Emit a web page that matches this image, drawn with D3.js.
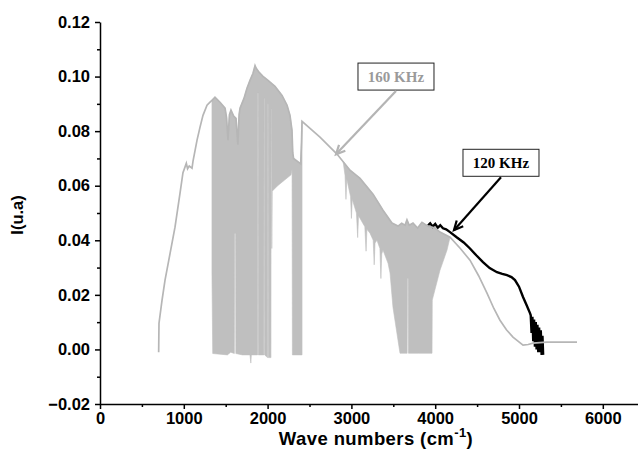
<!DOCTYPE html>
<html>
<head>
<meta charset="utf-8">
<script src="https://cdn.jsdelivr.net/npm/d3@7"></script>
<style>
  body { margin: 0; background: #fff; }
  svg { display: block; }
  .axis text { font-family: "Liberation Sans", Arial, sans-serif; font-weight: bold; font-size: 16.5px; fill: #000; }
  .axis path, .axis line { stroke: #000; stroke-width: 1.5; }
</style>
</head>
<body>
<div id="chart"></div>
<script>
// 160 KHz spectrum, upper envelope [wave number, intensity]
const env160 = [
  [700, -0.001], [704, 0.0096], [740, 0.018], [776, 0.0254], [835, 0.035], [895, 0.0448],
  [955, 0.0573], [990, 0.0648], [1014, 0.0668], [1030, 0.0682], [1045, 0.0662], [1065, 0.0672],
  [1098, 0.0664], [1110, 0.069], [1158, 0.0767], [1193, 0.0814], [1229, 0.0858], [1277, 0.0895],
  [1313, 0.0906], [1336, 0.0913], [1372, 0.0924], [1432, 0.0906], [1492, 0.0884], [1510, 0.085],
  [1527, 0.0767], [1545, 0.086], [1563, 0.0877], [1595, 0.0855], [1623, 0.0847], [1645, 0.075],
  [1660, 0.086], [1671, 0.0884], [1718, 0.092], [1754, 0.0957], [1790, 0.0986], [1826, 0.1012],
  [1850, 0.104], [1862, 0.1031], [1897, 0.1016], [1945, 0.1001], [2005, 0.0986], [2088, 0.0964],
  [2172, 0.0931], [2232, 0.0895], [2267, 0.0858], [2291, 0.0803], [2300, 0.072], [2310, 0.07],
  [2395, 0.068], [2405, 0.076], [2411, 0.0836], [2625, 0.0778], [2828, 0.0716], [2983, 0.0657],
  [3103, 0.0627], [3258, 0.0569], [3377, 0.051], [3484, 0.0463], [3556, 0.0452], [3600, 0.0462],
  [3640, 0.0455], [3663, 0.0475], [3690, 0.0455], [3735, 0.0463], [3790, 0.0445], [3842, 0.0466],
  [3914, 0.0452], [4000, 0.0445], [4057, 0.043], [4177, 0.0411], [4300, 0.037], [4415, 0.0327],
  [4518, 0.027], [4618, 0.0206], [4700, 0.015], [4773, 0.0107], [4850, 0.0072], [4928, 0.0045],
  [5048, 0.0016], [5110, 0.0018], [5167, 0.0023], [5334, 0.0027], [5692, 0.0027]
];

// 160 KHz absorption bands, lower edge of the grey fill
const band160a = [
  [1336, 0.028], [1345, -0.0015], [1520, -0.002], [1560, -0.001], [1603, -0.0015], [1606, 0.0425],
  [1618, 0.0425], [1621, -0.0015], [1700, -0.002], [1790, -0.002], [1800, -0.005], [1806, -0.002],
  [1880, -0.002], [1882, 0.094], [1888, 0.094], [1890, -0.002], [1955, -0.002], [1957, 0.092],
  [1962, 0.092], [1964, -0.002], [2000, -0.003], [2002, 0.09], [2007, 0.09], [2009, -0.003],
  [2040, -0.003], [2042, 0.088], [2046, 0.088], [2050, 0.037], [2055, 0.058], [2120, 0.06],
  [2200, 0.062], [2280, 0.064], [2292, 0.066], [2296, -0.002], [2395, -0.002], [2411, -0.002]
];
const band160b = [
  [2900, 0.069], [2924, 0.0638], [2935, 0.055], [2945, 0.0625], [2990, 0.056], [3000, 0.048],
  [3010, 0.055], [3060, 0.05], [3075, 0.041], [3085, 0.049], [3160, 0.045], [3175, 0.036],
  [3185, 0.044], [3222, 0.0426], [3260, 0.04], [3272, 0.031], [3282, 0.039], [3305, 0.04],
  [3340, 0.037], [3352, 0.026], [3362, 0.035], [3377, 0.0364], [3437, 0.0316], [3461, 0.028],
  [3496, 0.0155], [3556, 0.0034], [3580, -0.0014], [3665, -0.0014], [3668, 0.026], [3678, 0.026],
  [3681, -0.0014], [3800, -0.0014], [3962, -0.0014], [3965, 0.0181], [4057, 0.029], [4141, 0.0364],
  [4177, 0.0411]
];

// 120 KHz spectrum (visible part)
const s120 = [
  [3914, 0.0455], [3940, 0.0462], [3970, 0.045], [4000, 0.046], [4030, 0.0446], [4060, 0.0455],
  [4093, 0.0444], [4130, 0.044], [4177, 0.043], [4260, 0.041], [4340, 0.0392], [4415, 0.037],
  [4490, 0.0345], [4570, 0.032], [4650, 0.0298], [4737, 0.0283], [4800, 0.0277], [4857, 0.0272],
  [4910, 0.0265], [4952, 0.0254], [5000, 0.023], [5048, 0.0192], [5090, 0.0163], [5131, 0.0133],
  [5140, 0.0125], [5150, 0.006], [5160, 0.012], [5170, 0.003], [5180, 0.011], [5190, 0.001],
  [5200, 0.01], [5210, 0.0], [5220, 0.009], [5230, -0.001], [5240, 0.008], [5250, -0.001],
  [5260, 0.007], [5270, -0.002], [5280, 0.005], [5288, -0.002]
];

const xMajor = [0, 1000, 2000, 3000, 4000, 5000, 6000];
const xMinor = [500, 1500, 2500, 3500, 4500, 5500];
const yMajor = [-0.02, 0.0, 0.02, 0.04, 0.06, 0.08, 0.10, 0.12];
const yMinor = [-0.01, 0.01, 0.03, 0.05, 0.07, 0.09, 0.11];

// labels: box centre and arrow tip, in data units
const notes = [
  { text: "160 KHz", color: "#9a9a9a", arrow: "#b4b4b4", box: [3532, 0.1], tip: [2816, 0.0715] },
  { text: "120 KHz", color: "#000", arrow: "#000", box: [4785, 0.0684], tip: [4224, 0.0437] }
];

const W = 638, H = 466;
const svg = d3.select("#chart").append("svg").attr("width", W).attr("height", H);

const x = d3.scaleLinear().domain([0, 6420]).range([100, 638]);
const y = d3.scaleLinear().domain([-0.02, 0.12]).range([404, 22]);

const line = d3.line().x((d) => x(d[0])).y((d) => y(d[1]));

// grey band fills: envelope part + lower edge reversed
function bandPoly(lower) {
  const x0 = lower[0][0], x1 = lower[lower.length - 1][0];
  const upper = env160.filter((d) => d[0] >= x0 && d[0] <= x1);
  return upper.concat(lower.slice().reverse());
}

[band160a, band160b].forEach((b) => {
  svg.append("path")
    .attr("d", line(bandPoly(b)) + "Z")
    .attr("fill", "#bfbfbf")
    .attr("stroke", "#bfbfbf")
    .attr("stroke-width", 0.6);
});

svg.append("path")
  .attr("d", line(s120))
  .attr("fill", "none")
  .attr("stroke", "#000")
  .attr("stroke-width", 2.4);

svg.append("path")
  .attr("d", line(env160))
  .attr("fill", "none")
  .attr("stroke", "#b6b6b6")
  .attr("stroke-width", 1.7);

// axes
svg.append("g").attr("class", "axis").attr("transform", "translate(0,404)")
  .call(d3.axisBottom(x).tickValues(xMajor).tickSize(5).tickSizeOuter(0).tickPadding(3).tickFormat(d3.format("d")));
svg.append("g").attr("class", "axis").attr("transform", "translate(0,404)")
  .call(d3.axisBottom(x).tickValues(xMinor).tickSize(3).tickFormat(""))
  .select(".domain").remove();

svg.append("g").attr("class", "axis").attr("transform", "translate(100,0)")
  .call(d3.axisLeft(y).tickValues(yMajor).tickSize(5).tickSizeOuter(0).tickPadding(5).tickFormat(d3.format(".2f")));
svg.append("g").attr("class", "axis").attr("transform", "translate(100,0)")
  .call(d3.axisLeft(y).tickValues(yMinor).tickSize(3).tickFormat(""))
  .select(".domain").remove();

// axis titles
const xt = svg.append("text")
  .attr("x", 376).attr("y", 445)
  .attr("text-anchor", "middle")
  .style("font-family", "Liberation Sans, Arial, sans-serif")
  .style("font-weight", "bold").style("font-size", "18.5px")
  .style("letter-spacing", "0.4px");
xt.append("tspan").text("Wave numbers (cm");
xt.append("tspan").attr("dy", -8).style("font-size", "13px").text("-1");
xt.append("tspan").attr("dy", 8).text(")");

svg.append("text")
  .attr("transform", "translate(23,215) rotate(-90)")
  .attr("text-anchor", "middle")
  .style("font-family", "Liberation Sans, Arial, sans-serif")
  .style("font-weight", "bold").style("font-size", "16.5px")
  .text("I(u.a)");

// annotations
notes.forEach((n) => {
  const cx = x(n.box[0]), cy = y(n.box[1]);
  const bw = 76, bh = 27;
  svg.append("rect")
    .attr("x", cx - bw / 2).attr("y", cy - bh / 2)
    .attr("width", bw).attr("height", bh)
    .attr("fill", "#fff").attr("stroke", "#222").attr("stroke-width", 1);
  svg.append("text")
    .attr("x", cx).attr("y", cy + 5)
    .attr("text-anchor", "middle")
    .style("font-family", "Liberation Serif, 'Times New Roman', serif")
    .style("font-weight", "bold").style("font-size", "15px")
    .attr("fill", n.color)
    .text(n.text);

  const sx = cx, sy = cy + bh / 2 + 1;
  const tx = x(n.tip[0]), ty = y(n.tip[1]);
  const ang = Math.atan2(ty - sy, tx - sx);
  const hl = 10, ha = 0.45;
  const head = [
    [tx - hl * Math.cos(ang - ha), ty - hl * Math.sin(ang - ha)],
    [tx, ty],
    [tx - hl * Math.cos(ang + ha), ty - hl * Math.sin(ang + ha)]
  ];
  svg.append("line")
    .attr("x1", sx).attr("y1", sy).attr("x2", tx).attr("y2", ty)
    .attr("stroke", n.arrow).attr("stroke-width", 2.2);
  svg.append("path")
    .attr("d", d3.line()(head))
    .attr("fill", "none").attr("stroke", n.arrow).attr("stroke-width", 2.2);
});
</script>
</body>
</html>
